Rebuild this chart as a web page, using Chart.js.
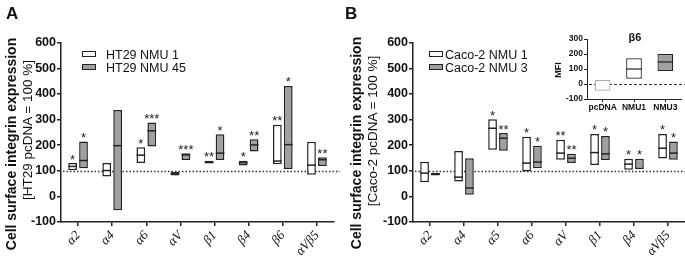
<!DOCTYPE html>
<html>
<head>
<meta charset="utf-8">
<script src="https://cdn.jsdelivr.net/npm/chart.js@4.4.1/dist/chart.umd.min.js"></script>
<style>
  body { margin: 0; background: #fff; font-family: 'Liberation Sans', Arial, sans-serif; color: #111; }
  #page { position: relative; width: 685px; height: 258px; overflow: hidden; }
  .pane { position: absolute; }
  .txt { position: absolute; white-space: nowrap; line-height: 1; }
  .rot { transform: translate(-50%, -50%) rotate(-90deg); }
  .sw { position: absolute; width: 12px; height: 4px; border: 1.5px solid #222; }
</style>
</head>
<body>
<div id="page">
  <div class="pane" style="left:0;top:0;width:340px;height:258px"><canvas id="chartA"></canvas></div>
  <div class="pane" style="left:340px;top:0;width:345px;height:258px"><canvas id="chartB"></canvas></div>
  <div class="pane" style="left:545px;top:25px;width:140px;height:90px"><canvas id="chartC"></canvas></div>

  <div class="txt" style="left:6px;top:5px;font-size:17px;font-weight:bold">A</div>
  <div class="txt" style="left:345px;top:5px;font-size:17px;font-weight:bold">B</div>

  <div class="txt rot" style="left:11px;top:144px;font-size:14px;font-weight:bold">Cell surface integrin expression</div>
  <div class="txt rot" style="left:28px;top:130px;font-size:13.5px">[HT29 pcDNA = 100 %]</div>
  <div class="txt rot" style="left:356px;top:143px;font-size:14px;font-weight:bold">Cell surface integrin expression</div>
  <div class="txt rot" style="left:373px;top:131px;font-size:13.5px">[Caco-2 pcDNA = 100 %]</div>

  <div class="sw" style="left:82px;top:51px;background:#fff"></div>
  <div class="txt" style="left:106px;top:49px;font-size:12.5px">HT29 NMU 1</div>
  <div class="sw" style="left:82px;top:64px;background:#a0a0a0"></div>
  <div class="txt" style="left:106px;top:62px;font-size:12.5px">HT29 NMU 45</div>

  <div class="sw" style="left:429px;top:51px;background:#fff"></div>
  <div class="txt" style="left:445px;top:49px;font-size:12.5px">Caco-2 NMU 1</div>
  <div class="sw" style="left:429px;top:64px;background:#a0a0a0"></div>
  <div class="txt" style="left:445px;top:62px;font-size:12.5px">Caco-2 NMU 3</div>

  <div class="txt rot" style="left:558px;top:70px;font-size:9px;font-weight:bold">MFI</div>
  <div class="txt" style="left:635px;top:37px;transform:translate(-50%,-50%);font-size:11px;font-weight:bold">β6</div>
</div>
<script>
const FONT = "'Liberation Sans', Arial, sans-serif";
const GRAY = '#a0a0a0';
const INK = '#222';

// panel A: HT29
const catsA = ['α2', 'α4', 'α6', 'αV', 'β1', 'β4', 'β6', 'αVβ5'];
const ht1Low  = [102, 78, 130, 82, 128, 121, 125, 84];
const ht1High = [130, 130, 192, 95, 139, 139, 280, 213];
const ht1Med  = [117, 101, 161, 88, 133, 131, 138, 122];
const ht1Star = ['*', '', '*', '', '**', '*', '**', ''];
const ht45Low  = [110, -54, 195, 142, 142, 175, 107, 119];
const ht45High = [214, 337, 288, 168, 243, 223, 431, 153];
const ht45Med  = [140, 198, 256, 162, 169, 201, 202, 143];
const ht45Star = ['*', '', '***', '***', '*', '**', '*', '**'];

// panel B: Caco-2
const catsB = ['α2', 'α4', 'α5', 'α6', 'αV', 'β1', 'β4', 'αVβ5'];
const caco1Low  = [55, 58, 182, 97, 143, 123, 104, 148];
const caco1High = [135, 177, 301, 233, 221, 244, 147, 244];
const caco1Med  = [91, 75, 266, 130, 169, 171, 126, 188];
const caco1Star = ['', '', '*', '*', '**', '*', '*', '*'];
const caco3Low  = [82, 6, 178, 110, 130, 142, 107, 143];
const caco3High = [92, 149, 247, 198, 166, 236, 147, 214];
const caco3Med  = [87, 33, 227, 134, 149, 166, null, 169];
const caco3Star = ['', '', '**', '*', '**', '*', '*', '*'];

// inset: beta6 MFI
const catsC = ['pcDNA', 'NMU1', 'NMU3'];
const b6Low  = [-45, 35, 87];
const b6High = [27, 171, 200];
const b6Med  = [null, 100, 147];

const yTicksMain = [-100, 600, 100];
const yTicksInset = [-100, 300, 100];

// medians, asterisks and the reference line
const boxExtras = {
  id: 'boxExtras',
  beforeDatasetsDraw(chart, args, o) {
    if (o.ref == null) return;
    const { ctx, chartArea: a, scales: { y } } = chart;
    const py = Math.round(y.getPixelForValue(o.ref)) + 0.5;
    ctx.save();
    ctx.strokeStyle = '#333';
    ctx.lineWidth = o.lw;
    ctx.setLineDash(o.dash);
    ctx.beginPath();
    ctx.moveTo(a.left + 2, py);
    ctx.lineTo(chart.width, py);
    ctx.stroke();
    ctx.restore();
  },
  afterDatasetsDraw(chart) {
    const { ctx, scales: { y } } = chart;
    ctx.save();
    chart.data.datasets.forEach((ds, i) => {
      chart.getDatasetMeta(i).data.forEach((bar, j) => {
        const p = bar.getProps(['x', 'y', 'base', 'width'], true);
        const m = ds.medians ? ds.medians[j] : null;
        if (m != null) {
          const my = y.getPixelForValue(m);
          ctx.strokeStyle = INK;
          ctx.lineWidth = ds.borderWidth;
          ctx.beginPath();
          ctx.moveTo(p.x - p.width / 2, my);
          ctx.lineTo(p.x + p.width / 2, my);
          ctx.stroke();
        }
        const s = ds.stars ? ds.stars[j] : '';
        if (s) {
          ctx.fillStyle = INK;
          ctx.font = '13px ' + FONT;
          ctx.textAlign = 'center';
          ctx.textBaseline = 'alphabetic';
          ctx.fillText(s, p.x, Math.min(p.y, p.base) + 0.5);
        }
      });
    });
    ctx.restore();
  }
};

function series(label, lo, hi, med, stars, fill) {
  return {
    label, data: lo.map((v, i) => [v, hi[i]]),
    backgroundColor: fill, borderColor: INK, borderWidth: 1.5, borderSkipped: false,
    categoryPercentage: 0.64, barPercentage: 0.8,
    medians: med, stars
  };
}

function panel(id, cats, sets, yWidth, padRight) {
  return new Chart(document.getElementById(id), {
    type: 'bar',
    data: { labels: cats, datasets: sets },
    options: {
      responsive: true, maintainAspectRatio: false, animation: false,
      layout: { padding: { top: 42.7, right: padRight, bottom: 0, left: 0 } },
      plugins: { legend: { display: false }, tooltip: { enabled: false },
        boxExtras: { ref: 100, dash: [1.5, 2], lw: 1.3 } },
      scales: {
        y: {
          min: yTicksMain[0], max: yTicksMain[1],
          ticks: { stepSize: yTicksMain[2], color: '#111', padding: 1,
            font: { family: FONT, size: 12.5, weight: 'bold' } },
          grid: { drawOnChartArea: false, tickLength: 4, color: INK, lineWidth: 1.5 },
          border: { color: INK, width: 1.5 },
          afterFit: s => { s.width = yWidth; }
        },
        x: {
          ticks: { minRotation: 48, maxRotation: 48, autoSkip: false, color: '#111', padding: 2,
            font: { family: "'Liberation Serif', serif", style: 'italic', size: 13 } },
          grid: { drawOnChartArea: false, offset: false, tickLength: 4, color: INK, lineWidth: 1.5 },
          border: { color: INK, width: 1.5 },
          afterFit: s => { s.height = 36; }
        }
      }
    },
    plugins: [boxExtras]
  });
}

panel('chartA', catsA, [
  series('HT29 NMU 1', ht1Low, ht1High, ht1Med, ht1Star, '#fff'),
  series('HT29 NMU 45', ht45Low, ht45High, ht45Med, ht45Star, GRAY)
], 61, 6);

panel('chartB', catsB, [
  series('Caco-2 NMU 1', caco1Low, caco1High, caco1Med, caco1Star, '#fff'),
  series('Caco-2 NMU 3', caco3Low, caco3High, caco3Med, caco3Star, GRAY)
], 73, 0);

new Chart(document.getElementById('chartC'), {
  type: 'bar',
  data: {
    labels: catsC,
    datasets: [{
      label: 'β6', data: b6Low.map((v, i) => [v, b6High[i]]),
      backgroundColor: ['#fff', '#fff', GRAY], borderColor: ['#aaa', INK, INK],
      borderWidth: 1.2, borderSkipped: false, categoryPercentage: 1, barPercentage: 0.5,
      medians: b6Med
    }]
  },
  options: {
    responsive: true, maintainAspectRatio: false, animation: false,
    layout: { padding: { top: 14, right: 4, bottom: 0, left: 0 } },
    plugins: { legend: { display: false }, tooltip: { enabled: false },
      boxExtras: { ref: 0, dash: [3, 2], lw: 1 } },
    scales: {
      y: {
        min: yTicksInset[0], max: yTicksInset[1],
        ticks: { stepSize: yTicksInset[2], color: '#111', padding: 1,
          font: { family: FONT, size: 8.5, weight: 'bold' } },
        grid: { drawOnChartArea: false, tickLength: 3, color: INK, lineWidth: 1 },
        border: { color: INK, width: 1 },
        afterFit: s => { s.width = 42; }
      },
      x: {
        ticks: { maxRotation: 0, autoSkip: false, color: '#111', padding: 1,
          font: { family: FONT, size: 8.5, weight: 'bold' } },
        grid: { drawOnChartArea: false, offset: false, tickLength: 3, color: INK, lineWidth: 1 },
        border: { color: INK, width: 1 },
        afterFit: s => { s.height = 16; }
      }
    }
  },
  plugins: [boxExtras]
});
</script>
</body>
</html>
